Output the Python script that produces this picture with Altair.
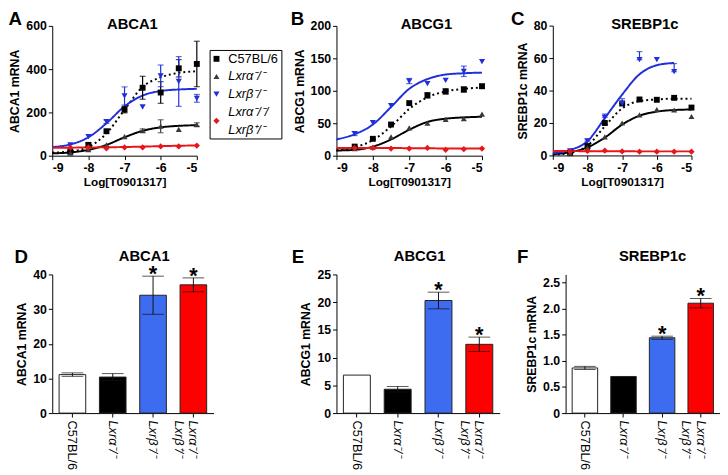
import altair as alt
import pandas as pd

FONT = "Liberation Sans"

# ---------------- data ----------------
dose = [-8.5, -8.0, -7.5, -7.0, -6.5, -6.0, -5.5, -5.0]
fit_dose = [-9.0, -8.5, -8.0, -7.5, -7.0, -6.5, -6.0, -5.5, -5.0]
series = ["C57BL/6", "Lxrα⁻/⁻", "Lxrβ⁻/⁻", "Lxrα⁻/⁻/Lxrβ⁺/⁻"]

# Panel A - ABCA1
a_c57 = [18, 50, 113, 213, 314, 292, 404, 424]
a_c57_err = [0, 8, 0, 15, 53, 50, 40, 105]
a_lxra = [12, 28, 50, 88, 116, 136, 122, 144]
a_lxra_err = [0, 0, 0, 0, 8, 30, 0, 8]
a_lxrb = [50, 88, 157, 276, 225, 369, 343, 265]
a_lxrb_err = [0, 0, 8, 42, 0, 50, 115, 18]
a_dko = [37, 38, 34, 38, 38, 43, 43, 47]
a_dko_err = [0, 0, 0, 0, 0, 0, 0, 0]
a_fit_c57 = [14, 20, 40, 103, 212, 318, 362, 383, 390]
a_fit_lxra = [11, 15, 27, 50, 85, 115, 131, 138, 141]
a_fit_lxrb = [40, 52, 85, 150, 228, 278, 299, 306, 309]
a_fit_dko = [36, 37, 38, 39, 40, 42, 44, 46, 47]

# Panel B - ABCG1
b_c57 = [14, 26, 48, 81, 93, 99, 102, 107]
b_c57_err = [0, 0, 0, 0, 4, 4, 4, 3]
b_lxra = [11, 13, 29, 43, 50, 56, 57, 64]
b_lxra_err = [0, 0, 0, 0, 0, 0, 0, 0]
b_lxrb = [34, 51, 77, 115, 111, 116, 130, 145]
b_lxrb_err = [3, 0, 0, 4, 0, 0, 8, 0]
b_dko = [12, 12, 11, 11, 12, 9, 10, 11]
b_dko_err = [0, 0, 0, 0, 0, 0, 0, 0]
b_fit_c57 = [8, 13, 24, 45, 72, 90, 99, 103, 105]
b_fit_lxra = [8, 9, 14, 25, 40, 52, 57, 59, 60]
b_fit_lxrb = [25, 33, 48, 75, 103, 118, 125, 127, 128]
b_fit_dko = [12, 12, 12, 12, 11.5, 11.5, 11, 11, 11]

# Panel C - SREBP1c
c_c57 = [1.4, 5.8, 20, 32, 34.5, 34.3, 35.5, 29.5]
c_c57_err = [0, 0, 0, 0, 0, 0, 0, 0]
c_lxra = [1.4, 4.8, 11.4, 20, 25, 28.3, 28, 24]
c_lxra_err = [0, 0, 0, 0, 0, 0, 0, 0]
c_lxrb = [2.8, 8.8, 23.5, 32, 59, 59, 51.6, None]
c_lxrb_err = [0, 1.5, 2, 3, 5, 0, 5, 0]
c_dko = [2.5, 2.8, 3.0, 2.5, 2.3, 2.3, 2.3, 2.3]
c_dko_err = [0, 0, 0, 0, 0, 0, 0, 0]
c_fit_c57 = [0.5, 1.5, 6, 18, 29, 33.5, 34.5, 35, 35]
c_fit_lxra = [0.8, 2, 5, 11, 19, 24.5, 27, 28, 28.3]
c_fit_lxrb = [1.4, 3.4, 8.8, 23, 37.5, 50, 55.6, 57, None]
c_fit_dko = [2.7, 2.7, 2.6, 2.6, 2.6, 2.5, 2.5, 2.5, 2.5]

# Legend text lines
legend_lines = ["C57BL/6", "Lxrα⁻/⁻", "Lxrβ⁻/⁻", "Lxrα⁻/⁻/", "Lxrβ⁺/⁻"]

# Bottom bar panels
categories = ["C57BL/6", "Lxrα⁻/⁻", "Lxrβ⁻/⁻", "Lxrα⁻/⁻\nLxrβ⁺/⁻"]
significance = ["", "", "*", "*"]
d_abca1 = [11.1, 10.4, 34.0, 37.0]
d_abca1_err = [0.5, 1.0, 5.5, 2.0]
e_abcg1 = [6.85, 4.3, 20.3, 12.4]
e_abcg1_err = [0, 0.5, 1.5, 1.3]
f_srebp = [0.863, 0.70, 1.44, 2.10]
f_srebp_err = [0.03, 0, 0.03, 0.09]

# ---------------- styles ----------------
marker_colors = ["#000000", "#3a3a3a", "#1f2fd9", "#e8161b"]
line_colors = ["#000000", "#000000", "#1f2fd9", "#e8161b"]
dashes = [[2, 3], [1, 0], [1, 0], [1, 0]]
shapes = ["square", "triangle-up", "triangle-down", "diamond"]
sizes = [36, 40, 50, 22]
bar_colors = ["#ffffff", "#000000", "#3d6cf0", "#ff0000"]

INDEP = dict(color="independent", shape="independent", size="independent",
             strokeDash="independent")


def title_axis(text, tx, ty, size):
    return alt.Axis(orient="top", title=text, labels=False, ticks=False,
                    domain=False, titleX=tx, titleY=ty,
                    titleAlign="center" if size < 18 else "left",
                    titleBaseline="alphabetic", titleFontSize=size)


def dose_panel(letter, letter_x, gene, gene_x, ytitle, ymax, yticks, width,
               pts, errs, fits, one_sided=()):
    prow = []
    for s, vals, es in zip(series, pts, errs):
        for d, v, e in zip(dose, vals, es):
            if v is None:
                continue
            lo = v if s in one_sided else v - e
            prow.append({"s": s, "x": d, "y": v, "lo": lo, "hi": v + e, "e": e})
    pdf = pd.DataFrame(prow)
    frow = []
    for s, vals in zip(series, fits):
        for d, v in zip(fit_dose, vals):
            if v is None:
                continue
            frow.append({"s": s, "x": d, "y": v})
    fdf = pd.DataFrame(frow)

    xs = alt.Scale(domain=[-9, -5], nice=False, zero=False)
    ys = alt.Scale(domain=[0, ymax], nice=False)
    x_bottom = alt.Axis(title="Log[T0901317]", values=[-9, -8, -7, -6, -5],
                        labelExpr="datum.value + ''", titlePadding=3,
                        titleFontSize=12)
    y_axis = alt.Axis(title=ytitle, values=yticks)

    lines = alt.Chart(fdf).mark_line(interpolate="monotone", strokeWidth=2).encode(
        x=alt.X("x:Q", scale=xs, axis=x_bottom),
        y=alt.Y("y:Q", scale=ys, axis=y_axis),
        color=alt.Color("s:N", scale=alt.Scale(domain=series, range=line_colors), legend=None),
        strokeDash=alt.StrokeDash("s:N", scale=alt.Scale(domain=series, range=dashes), legend=None),
    )
    ebars = alt.Chart(pdf[pdf["e"] > 0]).mark_errorbar(ticks=True, size=6, thickness=1.2).encode(
        x=alt.X("x:Q", scale=xs, axis=None),
        y=alt.Y("lo:Q", scale=ys, axis=y_axis),
        y2="hi:Q",
        color=alt.Color("s:N", scale=alt.Scale(domain=series, range=marker_colors), legend=None),
    )
    points = alt.Chart(pdf).mark_point(filled=True, opacity=1).encode(
        x=alt.X("x:Q", scale=xs, axis=title_axis(gene, gene_x, 3, 15)),
        y=alt.Y("y:Q", scale=ys, axis=y_axis),
        color=alt.Color("s:N", scale=alt.Scale(domain=series, range=marker_colors), legend=None),
        shape=alt.Shape("s:N", scale=alt.Scale(domain=series, range=shapes), legend=None),
        size=alt.Size("s:N", scale=alt.Scale(domain=series, range=sizes), legend=None),
    )
    tag = alt.Chart(pdf).mark_point(opacity=0).encode(
        x=alt.X("x:Q", scale=xs, axis=title_axis(letter, letter_x, -1, 19)),
        y=alt.Y("y:Q", scale=ys, axis=y_axis),
    )
    return alt.layer(lines, ebars, points, tag).resolve_axis(x="independent").resolve_scale(
        **INDEP).properties(width=width, height=132)


def bar_panel(letter, letter_x, gene, gene_x, ytitle, vals, errs, ymax, yticks,
              width, ylabel_expr):
    df = pd.DataFrame({"g": categories, "v": vals, "e": errs, "sig": significance})
    df["lo"] = df["v"] - df["e"]
    df["hi"] = df["v"] + df["e"]
    xsc = alt.Scale(domain=categories, paddingInner=0.34, paddingOuter=0.17)
    ysc = alt.Scale(domain=[0, ymax], nice=False)
    x_bottom = alt.Axis(title=None, labelAngle=90, labelFontWeight="normal",
                        labelFontSize=13, labelPadding=3,
                        labelExpr="split(datum.label, '\\n')",
                        labelFontStyle={"condition": {"test": "datum.value !== 'C57BL/6'",
                                                      "value": "italic"},
                                        "value": "normal"})
    y_axis = alt.Axis(title=ytitle, values=yticks, labelExpr=ylabel_expr)
    bars = alt.Chart(df).mark_bar(stroke="#222222", strokeWidth=1).encode(
        x=alt.X("g:N", scale=xsc, sort=categories, axis=x_bottom),
        y=alt.Y("v:Q", scale=ysc, axis=y_axis),
        color=alt.Color("g:N", scale=alt.Scale(domain=categories, range=bar_colors), legend=None),
    )
    ebars = alt.Chart(df[df["e"] > 0]).mark_errorbar(ticks=True, size=22, thickness=1, color="#111111").encode(
        x=alt.X("g:N", scale=xsc, sort=categories, axis=None),
        y=alt.Y("lo:Q", scale=ysc, axis=y_axis),
        y2="hi:Q",
    )
    stars = alt.Chart(df[df["sig"] != ""]).mark_text(
        fontSize=22, fontWeight="bold", baseline="alphabetic", dy=5, font=FONT, color="black"
    ).encode(
        x=alt.X("g:N", scale=xsc, sort=categories, axis=title_axis(gene, gene_x, -14, 15)),
        y=alt.Y("hi:Q", scale=ysc, axis=y_axis),
        text="sig:N",
    )
    tag = alt.Chart(df).mark_point(opacity=0).encode(
        x=alt.X("g:N", scale=xsc, sort=categories, axis=title_axis(letter, letter_x, -12, 19)),
        y=alt.Y("v:Q", scale=ysc, axis=y_axis),
    )
    return alt.layer(bars, ebars, stars, tag).resolve_axis(x="independent").resolve_scale(
        color="independent").properties(width=width, height=141)


panel_a = dose_panel("A", -45, "ABCA1", 81, "ABCA1 mRNA", 600, [0, 200, 400, 600], 147,
                     [a_c57, a_lxra, a_lxrb, a_dko],
                     [a_c57_err, a_lxra_err, a_lxrb_err, a_dko_err],
                     [a_fit_c57, a_fit_lxra, a_fit_lxrb, a_fit_dko])
panel_b = dose_panel("B", -47, "ABCG1", 91, "ABCG1 mRNA", 200, [0, 50, 100, 150, 200], 148,
                     [b_c57, b_lxra, b_lxrb, b_dko],
                     [b_c57_err, b_lxra_err, b_lxrb_err, b_dko_err],
                     [b_fit_c57, b_fit_lxra, b_fit_lxrb, b_fit_dko])
panel_c = dose_panel("C", -43, "SREBP1c", 93, "SREBP1c mRNA", 80, [0, 20, 40, 60, 80], 141,
                     [c_c57, c_lxra, c_lxrb, c_dko],
                     [c_c57_err, c_lxra_err, c_lxrb_err, c_dko_err],
                     [c_fit_c57, c_fit_lxra, c_fit_lxrb, c_fit_dko],
                     one_sided=("Lxrβ⁻/⁻",))

# ---------------- legend ----------------
ly = alt.Scale(type="point", domain=legend_lines, padding=0.5)
leg_marks = pd.DataFrame({"s": series, "row": legend_lines[:4]})
leg_text = pd.DataFrame({"row": legend_lines})
leg_base_y = alt.Y("row:N", scale=ly, axis=None)
leg_pts = alt.Chart(leg_marks.iloc[:3]).mark_point(filled=True, opacity=1).encode(
    x=alt.value(7), y=leg_base_y,
    color=alt.Color("s:N", scale=alt.Scale(domain=series, range=marker_colors), legend=None),
    shape=alt.Shape("s:N", scale=alt.Scale(domain=series, range=shapes), legend=None),
    size=alt.Size("s:N", scale=alt.Scale(domain=series, range=sizes), legend=None),
)
leg_pt4 = alt.Chart(leg_marks.iloc[3:]).mark_point(filled=True, opacity=1, yOffset=9).encode(
    x=alt.value(7), y=leg_base_y,
    color=alt.Color("s:N", scale=alt.Scale(domain=series, range=marker_colors), legend=None),
    shape=alt.Shape("s:N", scale=alt.Scale(domain=series, range=shapes), legend=None),
    size=alt.Size("s:N", scale=alt.Scale(domain=series, range=sizes), legend=None),
)
leg_t1 = alt.Chart(leg_text.iloc[:1]).mark_text(
    align="left", baseline="middle", fontSize=13, font=FONT, color="black").encode(
    x=alt.value(19), y=leg_base_y, text="row:N")
leg_t2 = alt.Chart(leg_text.iloc[1:]).mark_text(
    align="left", baseline="middle", fontSize=13, font=FONT, fontStyle="italic",
    color="black").encode(x=alt.value(19), y=leg_base_y, text="row:N")
legend = alt.layer(leg_pts, leg_pt4, leg_t1, leg_t2).properties(
    width=73, height=90, view=alt.ViewBackground(stroke="black", strokeWidth=1),
    title=alt.TitleParams("x", orient="bottom", fontSize=22, offset=4, color="white"))

# ---------------- bars ----------------
panel_d = bar_panel("D", -39, "ABCA1", 93, "ABCA1 mRNA", d_abca1, d_abca1_err, 40,
                    [0, 10, 20, 30, 40], 164, "datum.value + ''")
panel_e = bar_panel("E", -46, "ABCG1", 84, "ABCG1 mRNA", e_abcg1, e_abcg1_err, 25,
                    [0, 5, 10, 15, 20, 25], 166, "datum.value + ''")
panel_f = bar_panel("F", -50, "SREBP1c", 88, "SREBP1c mRNA", f_srebp, f_srebp_err, 2.65,
                    [0, 0.5, 1.0, 1.5, 2.0, 2.5], 157,
                    "datum.value == 0 ? '0' : format(datum.value, '.1f')")

top_left = alt.hconcat(panel_a, legend, panel_b, spacing=8, center=True).resolve_scale(**INDEP)
top = alt.hconcat(top_left, panel_c, spacing=25).resolve_scale(**INDEP)
bottom_right = alt.hconcat(panel_e, panel_f, spacing=17).resolve_scale(**INDEP)
bottom = alt.hconcat(panel_d, bottom_right, spacing=79).resolve_scale(**INDEP)

chart = alt.vconcat(top, bottom, spacing=61).resolve_scale(**INDEP).properties(
    padding={"top": -2, "left": 0, "right": 0, "bottom": 0}).configure(
    font=FONT).configure_view(stroke=None).configure_axis(
    domainColor="black", tickColor="black", tickSize=4, grid=False,
    labelFont=FONT, labelFontSize=12.5, labelFontWeight="bold", labelColor="black",
    labelPadding=2, titleFont=FONT, titleFontSize=12.5, titleFontWeight="bold",
    titleColor="black").configure_title(font=FONT, color="black")

chart.save("out.html", embed_options={"renderer": "svg", "actions": False})
